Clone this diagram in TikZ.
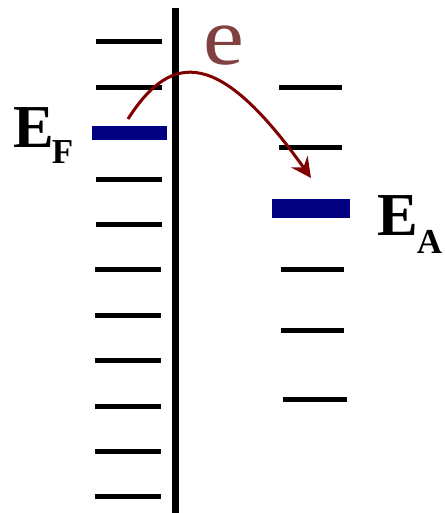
\documentclass[tikz,border=0pt]{standalone}
\usepackage{fontspec}
\setmainfont{Liberation Serif}
\usetikzlibrary{arrows.meta,positioning}
\definecolor{levelblue}{RGB}{0,0,128}
\definecolor{jumpred}{RGB}{128,0,0}
\definecolor{elabel}{RGB}{128,64,64}
\begin{document}
\begin{tikzpicture}[
        x=1pt, y=-1pt,
        level/.style={line width=5pt, black},
        fermi/.style={line width=14pt, levelblue},
        label/.style={inner sep=0pt, font=\bfseries},
        jump/.style={-{Stealth[length=20pt,width=20pt,inset=7pt]}, line width=3pt, jumpred}
    ]
        \useasboundingbox (0,0) rectangle (444,513);
        % surface
        \draw[line width=7pt] (175,8) -- (175,513);
        % metal levels
        \draw[level] (96,42) -- (162,42);
        \draw[level] (96,88) -- (162,88);
        \draw[level] (96,179) -- (162,179);
        \draw[level] (96,224) -- (162,224);
        \draw[level] (95,269) -- (161,269);
        \draw[level] (95,315) -- (161,315);
        \draw[level] (95,360) -- (161,360);
        \draw[level] (95,406) -- (161,406);
        \draw[level] (95,451) -- (161,451);
        \draw[level] (95,496) -- (161,496);
        \draw[fermi] (92,133.5) -- (167,133.5);
        % adsorbate levels
        \draw[level] (279,88) -- (342,88);
        \draw[level] (279,148) -- (342,148);
        \draw[level] (281,269) -- (344,269);
        \draw[level] (281,330) -- (344,330);
        \draw[level] (283,399) -- (347,399);
        \draw[fermi, line width=19pt] (272,208.5) -- (350,208.5);
        % labels
        \node[label, anchor=base west] (ef) at (13,147)
            {\fontsize{61}{61}\selectfont E\kern-2pt\raisebox{-16pt}{\fontsize{35}{35}\selectfont F}};
        \node[label, anchor=base west] (ea) at (377,235)
            {\fontsize{61}{61}\selectfont E\kern-1pt\raisebox{-18pt}{\fontsize{35}{35}\selectfont A}};
        \node[inner sep=0pt, anchor=base, text=elabel] (e) at (223.5,64.5)
            {\scalebox{1.12}[1]{\fontsize{82}{82}\selectfont e}};
        % electron transfer
        \coordinate (jump start) at (128,119);
        \coordinate (jump end) at (311,178);
        \draw[jump] (jump start) .. controls (172,50) and (220,50) .. (jump end);
    \end{tikzpicture}
\end{document}
